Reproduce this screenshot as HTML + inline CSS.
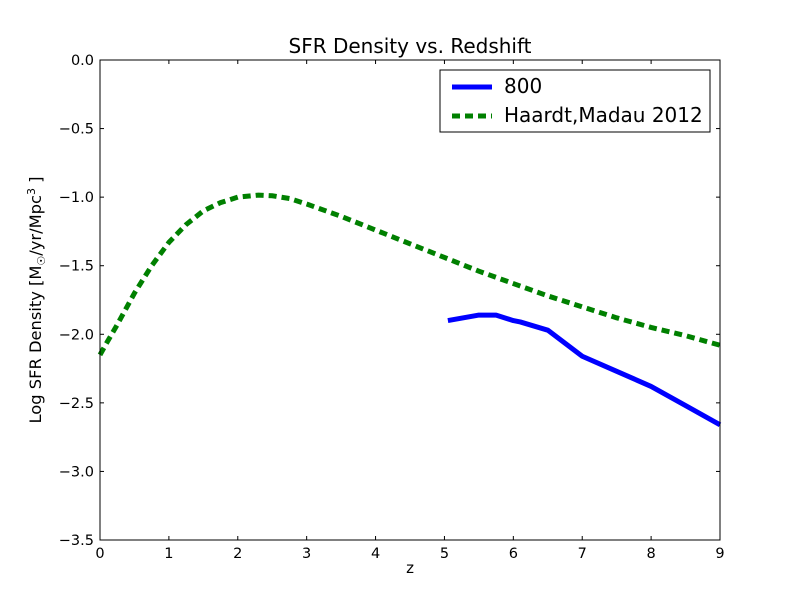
<!DOCTYPE html>
<html><head><meta charset="utf-8"><style>
body{margin:0;background:#fff;}
svg text{font-family:"DejaVu Sans","Liberation Sans",sans-serif;}
</style></head><body>
<svg id="chart" width="800" height="600" xmlns="http://www.w3.org/2000/svg">
<rect x="0" y="0" width="800" height="600" fill="#fff"/>
<g id="plot"></g>
</svg>
<script>
const xTicks=[0,1,2,3,4,5,6,7,8,9];
const yTicks=[0,-0.5,-1,-1.5,-2,-2.5,-3,-3.5];
const yTickLabels=["0.0","\u22120.5","\u22121.0","\u22121.5","\u22122.0","\u22122.5","\u22123.0","\u22123.5"];
const z800=[5.05,5.5,5.75,6.0,6.1,6.5,7.0,7.5,8.0,8.5,9.0];
const sfr800=[-1.90,-1.86,-1.86,-1.90,-1.91,-1.97,-2.16,-2.27,-2.38,-2.52,-2.66];
const zHM=[0,0.1,0.25,0.5,0.75,1,1.25,1.5,1.75,2,2.3,2.5,2.75,3,3.5,4,4.5,5,5.5,6,6.5,7,7.5,8,8.5,9];
const sfrHM=[-2.15,-2.06,-1.93,-1.70,-1.50,-1.33,-1.20,-1.10,-1.04,-1.00,-0.985,-0.99,-1.01,-1.05,-1.14,-1.24,-1.34,-1.44,-1.54,-1.63,-1.72,-1.80,-1.88,-1.95,-2.01,-2.08];

const L=100,R=720,T=60,B=540;
const sx=v=>L+(v-0)/9*(R-L);
const sy=v=>T+(0-v)/3.5*(B-T);
const NS="http://www.w3.org/2000/svg";
const g=document.getElementById('plot');
function mk(tag,attrs,parent){const e=document.createElementNS(NS,tag);for(const k in attrs)e.setAttribute(k,attrs[k]);(parent||g).appendChild(e);return e;}

const hm=mk('polyline',{points:zHM.map((z,i)=>sx(z)+','+sy(sfrHM[i])).join(' '),fill:'none',stroke:'#008000','stroke-width':5,'stroke-dasharray':'8,5'});


const s8=mk('polyline',{points:z800.map((z,i)=>sx(z)+','+sy(sfr800[i])).join(' '),fill:'none',stroke:'#0000ff','stroke-width':5,'stroke-linejoin':'round'});



const fr=mk('rect',{x:L,y:T,width:R-L,height:B-T,fill:'none',stroke:'#000','stroke-width':1});



xTicks.forEach(t=>{
  const x=sx(t);
  mk('line',{x1:x,y1:B,x2:x,y2:B-4,stroke:'#000'});
  mk('line',{x1:x,y1:T,x2:x,y2:T+4,stroke:'#000'});
  const tx=mk('text',{x:x,y:B+18,'text-anchor':'middle','font-size':14.5});
  tx.textContent=t;
  
  
});
yTicks.forEach((t,i)=>{
  const y=sy(t);
  mk('line',{x1:L,y1:y,x2:L+4,y2:y,stroke:'#000'});
  mk('line',{x1:R,y1:y,x2:R-4,y2:y,stroke:'#000'});
  const tx=mk('text',{x:L-6,y:y+5,'text-anchor':'end','font-size':14.5});
  tx.textContent=yTickLabels[i];
  
  
});
</script>
<svg width="800" height="600" style="position:absolute;left:0;top:0" xmlns="http://www.w3.org/2000/svg">
<text x="410" y="53" text-anchor="middle" font-size="20">SFR Density vs. Redshift</text>
<text x="410" y="573" text-anchor="middle" font-size="15">z</text>
<text transform="translate(41,300) rotate(-90)" text-anchor="middle" font-size="16.3">Log SFR Density [M<tspan font-size="11" dy="4">☉</tspan><tspan dy="-4">/yr/Mpc</tspan><tspan font-size="11" dy="-6">3</tspan><tspan dy="6"> ]</tspan></text>
<g>
<rect x="440" y="70" width="270" height="62" fill="#fff" stroke="#000"/>
<line x1="452" y1="87" x2="492" y2="87" stroke="#0000ff" stroke-width="5"/>
<text x="504" y="93" font-size="20">800</text>
<line x1="452" y1="116" x2="492" y2="116" stroke="#008000" stroke-width="5" stroke-dasharray="8,5"/>
<text x="504" y="122" font-size="20">Haardt,Madau 2012</text>
</g>
</svg>
</body></html>
